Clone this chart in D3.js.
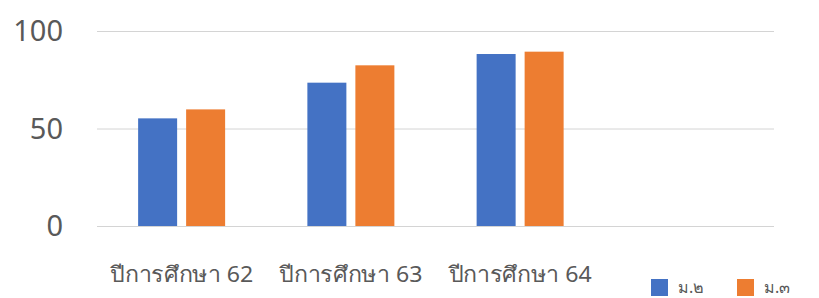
<!DOCTYPE html>
<html>
<head>
<meta charset="utf-8">
<script src="https://cdn.jsdelivr.net/npm/d3@7"></script>
<style>
  body { margin: 0; background: #fff; }
  text { font-family: "Segoe UI", "Noto Sans", "DejaVu Sans", sans-serif; fill: #595959; }
</style>
</head>
<body>
<svg id="chart"></svg>
<script>
const categories = ["ปีการศึกษา 62", "ปีการศึกษา 63", "ปีการศึกษา 64", ""];
const seriesNames = ["ม.๒", "ม.๓"];
const m2 = [55.2, 73.5, 88.2, null];
const m3 = [59.8, 82.4, 89.4, null];
const yTicks = [0, 50, 100];
const colors = ["#4472c4", "#ed7d31"];

const svgWidth = 819, svgHeight = 298;
const margin = { top: 31, right: 45, bottom: 72, left: 97 };
const width = svgWidth - margin.left - margin.right;
const height = svgHeight - margin.top - margin.bottom;

const svg = d3.select("#chart").attr("width", svgWidth).attr("height", svgHeight);
const g = svg.append("g").attr("transform", `translate(${margin.left},${margin.top})`);

const x = d3.scaleBand().domain(d3.range(categories.length)).range([0, width]);
const y = d3.scaleLinear().domain([0, 100]).range([height, 0]);

// gridlines
g.selectAll(".grid").data(yTicks).join("line")
  .attr("x1", 0).attr("x2", width)
  .attr("y1", d => y(d) + 0.5).attr("y2", d => y(d) + 0.5)
  .attr("stroke", "#d4d4d4").attr("stroke-width", 1);

// y labels
g.selectAll(".ylab").data(yTicks).join("text")
  .attr("x", -34).attr("y", d => y(d))
  .attr("dy", "0.36em")
  .attr("text-anchor", "end")
  .attr("font-size", "29px")
  .text(d => d);

// bars
const barW = 39, gap = 9;
const data = [m2, m3];
data.forEach((vals, si) => {
  g.selectAll(`.bar-${si}`).data(vals.map((v, i) => ({ v, i })).filter(d => d.v != null))
    .join("rect")
    .attr("x", d => x(d.i) + x.bandwidth() / 2 - barW - gap / 2 + si * (barW + gap))
    .attr("y", d => y(d.v))
    .attr("width", barW)
    .attr("height", d => height - y(d.v))
    .attr("fill", colors[si]);
});

// x labels
g.selectAll(".xlab").data(categories).join("text")
  .attr("x", (d, i) => x(i) + x.bandwidth() / 2)
  .attr("y", height + 56)
  .attr("text-anchor", "middle")
  .attr("font-size", "22px")
  .attr("textLength", d => d ? 143 : null)
  .attr("lengthAdjust", "spacingAndGlyphs")
  .text(d => d);

// legend
const legend = svg.append("g").attr("transform", "translate(651,279)");
seriesNames.forEach((s, i) => {
  const item = legend.append("g").attr("transform", `translate(${i * 86},0)`);
  item.append("rect").attr("width", 17).attr("height", 17).attr("fill", colors[i]);
  item.append("text").attr("x", 27).attr("y", 14).attr("font-size", "16px").text(s);
});
</script>
</body>
</html>
